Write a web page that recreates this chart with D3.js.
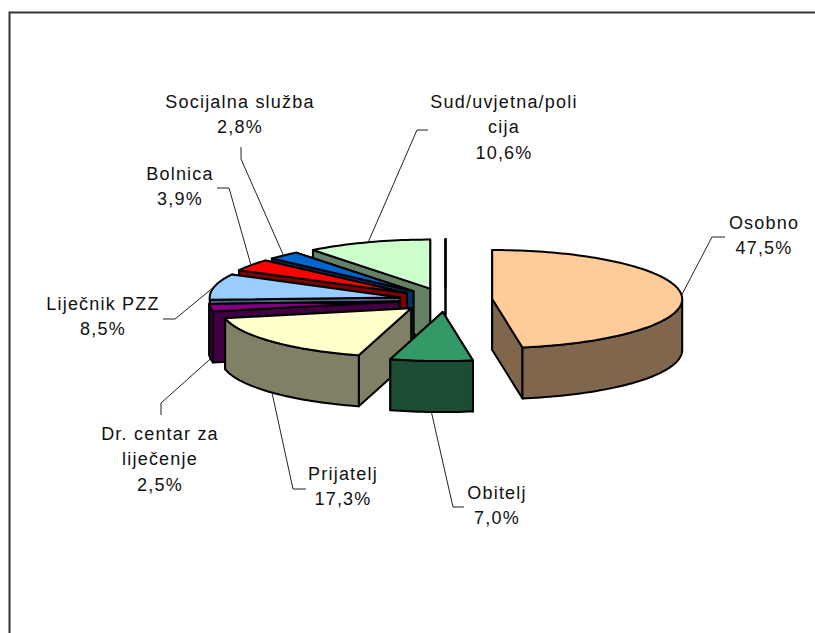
<!DOCTYPE html>
<html>
<head>
<meta charset="utf-8">
<script src="https://cdn.jsdelivr.net/npm/d3@7"></script>
<style>
  html, body { margin: 0; padding: 0; background: #fff; }
  svg { display: block; }
  text { font-family: "Liberation Sans", Arial, sans-serif; font-size: 18px; fill: #111; }
</style>
</head>
<body>
<div id="chart"></div>
<script>
// last category is an empty one, it only shows up as the thin black line
const categories = ["Osobno", "Obitelj", "Prijatelj", "Dr. centar za liječenje", "Liječnik PZZ", "Bolnica", "Socijalna služba", "Sud/uvjetna/policija", ""];
const values = [47.5, 7.0, 17.3, 2.5, 8.5, 3.9, 2.8, 10.6, 0];
const valueLabels = ["47,5%", "7,0%", "17,3%", "2,5%", "8,5%", "3,9%", "2,8%", "10,6%", ""];
const topColors = ["#FFCC99", "#339966", "#FFFFCC", "#800080", "#99CCFF", "#FF0000", "#0066CC", "#CCFFCC", "#000000"];

// how each label breaks over lines
const labelLines = [["Osobno"], ["Obitelj"], ["Prijatelj"], ["Dr. centar za", "liječenje"], ["Liječnik PZZ"], ["Bolnica"], ["Socijalna služba"], ["Sud/uvjetna/poli", "cija"], []];

// label placement: text centre, first baseline, leader elbow and leader end
const labelX = [764, 497, 343, 160, 103, 180, 240, 504];
const labelY = [229, 499, 480, 440, 310, 180, 108, 108];
const elbowX = [712, 453, 293, 161, 175, 229, 241, 417];
const elbowY = [237, 507, 489, 403, 319, 188, 159, 130];
const stubX = [725, 464, 306, 161, 163, 217, 241, 428];
const stubY = [237, 507, 489, 415, 319, 188, 147, 130];

const width = 815;
const height = 633;
const cx = 445.5;
const cy = 300;
const rx = 190;
const ry = 49;
const depth = 51;
const explode = 0.2466;
const lineHeight = 25.4;

let svg = d3.select("#chart")
    .append("svg")
    .attr("width", width)
    .attr("height", height);

svg.append("path")
    .attr("d", d3.line()([[9.5, height], [9.5, 12.5], [width, 12.5]]))
    .attr("fill", "none")
    .attr("stroke", "#333")
    .attr("stroke-width", 2);

let slices = d3.pie().sort(null).value(d => d)(values)
    .map((s, i) => {
        let mid = (s.startAngle + s.endAngle) / 2;
        return {
            index: i,
            start: s.startAngle,
            end: s.endAngle,
            mid: mid,
            x0: cx + explode * rx * Math.sin(mid),
            y0: cy - explode * ry * Math.cos(mid)
        };
    });

function rimPoint(s, a, drop) {
    return [s.x0 + rx * Math.sin(a), s.y0 - ry * Math.cos(a) + (drop || 0)];
}

function arcPoints(s, a0, a1, drop) {
    let n = Math.max(2, Math.ceil(Math.abs(a1 - a0) * 40));
    return d3.range(n + 1).map(k => rimPoint(s, a0 + (a1 - a0) * k / n, drop));
}

function wall(s, a) {
    return [[s.x0, s.y0], rimPoint(s, a), rimPoint(s, a, depth), [s.x0, s.y0 + depth]];
}

let line = d3.line();
let outline = pts => line(pts) + "Z";

function sideColor(c) {
    let rgb = d3.rgb(c);
    return d3.rgb(rgb.r / 2, rgb.g / 2, rgb.b / 2).formatHex();
}

// painted back to front, the later slices overlap the earlier ones
let drawOrder = slices.slice().reverse();

let groups = svg.selectAll("g.slice")
    .data(drawOrder)
    .enter()
    .append("g")
    .classed("slice", true)
    .attr("stroke", "#000")
    .attr("stroke-width", 2)
    .attr("stroke-linejoin", "round");

groups.each(function(s) {
    let g = d3.select(this);
    let side = sideColor(topColors[s.index]);

    // the wall whose rim end sits further back goes first
    let angles = [s.start, s.end].sort((a, b) => Math.cos(b) - Math.cos(a));
    angles.forEach(a => {
        g.append("path").attr("d", outline(wall(s, a))).attr("fill", side);
    });

    // outer wall only where the rim faces the viewer
    let a0 = Math.max(s.start, Math.PI / 2);
    let a1 = Math.min(s.end, 3 * Math.PI / 2);
    if (a1 > a0) {
        let upper = arcPoints(s, a0, a1);
        let lower = arcPoints(s, a1, a0, depth);
        g.append("path").attr("d", outline(upper.concat(lower))).attr("fill", side);
    }

    g.append("path")
        .attr("d", outline([[s.x0, s.y0]].concat(arcPoints(s, s.start, s.end))))
        .attr("fill", topColors[s.index]);
});

let labelled = slices.filter(s => categories[s.index] !== "");

svg.selectAll("path.leader")
    .data(labelled)
    .enter()
    .append("path")
    .classed("leader", true)
    .attr("d", s => {
        let front = Math.cos(s.mid) < -0.05;
        return line([rimPoint(s, s.mid, front ? depth : 0), [elbowX[s.index], elbowY[s.index]], [stubX[s.index], stubY[s.index]]]);
    })
    .attr("fill", "none")
    .attr("stroke", "#222")
    .attr("stroke-width", 1);

let labels = svg.selectAll("text.label")
    .data(labelled)
    .enter()
    .append("text")
    .classed("label", true)
    .attr("text-anchor", "middle")
    .style("letter-spacing", "1.2px");

labels.each(function(s) {
    let rows = labelLines[s.index].concat([valueLabels[s.index]]);
    d3.select(this).selectAll("tspan")
        .data(rows)
        .enter()
        .append("tspan")
        .attr("x", labelX[s.index])
        .attr("y", (d, i) => labelY[s.index] + i * lineHeight)
        .text(d => d);
});
</script>
</body>
</html>
